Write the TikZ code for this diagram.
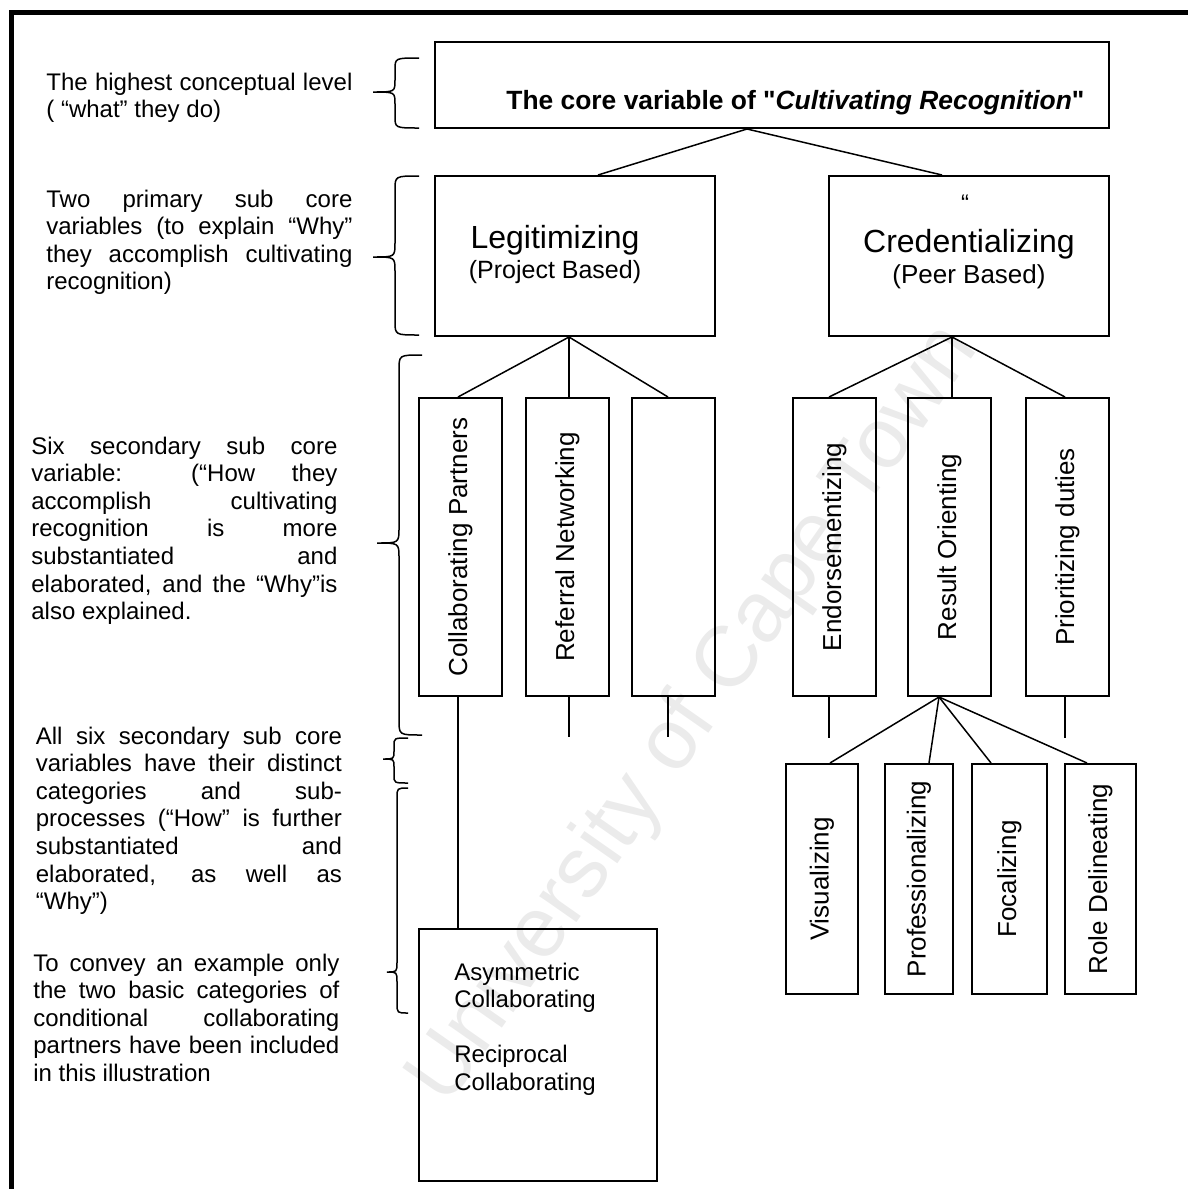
\documentclass[tikz,border=0pt]{standalone}
\usepackage{fontspec}
\setmainfont{Liberation Sans}
\usetikzlibrary{calc}
% one justified line of a side note, stretched to the note width
\newcommand\jl[1]{\makebox[\linewidth][s]{#1}\\}
% curly brace: end x, spine x, tip x, top y, tip y, bottom y, curl
\newcommand\sidebrace[7]{%
  \draw[bracestyle] (#1,#4) .. controls (#2,#4) .. (#2,#4+#7) -- (#2,#5-#7)
    .. controls (#2,#5) .. (#3,#5) .. controls (#2,#5) .. (#2,#5+#7)
    -- (#2,#6-#7) .. controls (#2,#6) .. (#1,#6);}
\begin{document}
\begin{tikzpicture}[x=0.5pt,y=-0.5pt,
  bx/.style 2 args={draw, line width=1pt, inner sep=0pt,
    minimum width=#1*0.5pt, minimum height=#2*0.5pt},
  link/.style={line width=0.75pt},
  bracestyle/.style={line width=0.75pt},
  vlab/.style={rotate=90, inner sep=0pt, font=\fontsize{13}{15}\selectfont},
  para/.style={anchor=base west, inner sep=0pt, font=\fontsize{12}{13.8}\selectfont},
  watermark/.style={rotate=55, inner sep=0pt, text=black!8,
    font=\fontsize{43}{43}\selectfont}]
\useasboundingbox (0,0) rectangle (1188,1189);

% faint diagonal stamp behind everything
\node[watermark] (wm) at (695,715) {University of Cape Town};

% page frame (top and left rules)
\draw[line width=2.5pt] (11,1200) -- (11,12) -- (1200,12);

% boxes
\node[bx={674}{86}] (core) at (772,85) {};
\node[bx={280}{160}] (legit) at (575,256) {};
\node[bx={280}{160}] (cred) at (969,256) {};
\node[bx={83}{298}] (collab) at (460.5,547) {};
\node[bx={83}{298}] (referral) at (567.5,547) {};
\node[bx={83}{298}] (blank) at (673.5,547) {};
\node[bx={83}{298}] (endorse) at (834.5,547) {};
\node[bx={83}{298}] (result) at (949.5,547) {};
\node[bx={83}{298}] (prior) at (1067.5,547) {};
\node[bx={72}{230}] (visual) at (822,879) {};
\node[bx={68}{230}] (profess) at (919,879) {};
\node[bx={75}{230}] (focal) at (1009.5,879) {};
\node[bx={71}{230}] (role) at (1100.5,879) {};
\node[bx={238}{252}] (example) at (538,1055) {};

% box texts
\node[anchor=base west, inner sep=0pt, font=\fontsize{13.2}{15}\bfseries] (coreT) at (506,109)
  {The core variable of \textquotedbl\textit{Cultivating Recognition}\textquotedbl};
\node[anchor=base, inner sep=0pt, font=\fontsize{16}{18}\selectfont] (legitT) at (555,248) {Legitimizing};
\node[anchor=base, inner sep=0pt, font=\fontsize{12.5}{14}\selectfont] (legitS) at (555,278) {(Project Based)};
\node[anchor=base, inner sep=0pt, font=\fontsize{12}{14}\selectfont] (credQ) at (965,211) {“};
\node[anchor=base, inner sep=0pt, font=\fontsize{16}{18}\selectfont] (credT) at (969,252) {Credentializing};
\node[anchor=base, inner sep=0pt, font=\fontsize{13}{15}\selectfont] (credS) at (969,283) {(Peer Based)};

\node[vlab] (collabT) at (collab) {Collaborating Partners};
\node[vlab] (referralT) at (referral) {Referral Networking};
\node[vlab] (endorseT) at (endorse) {Endorsementizing};
\node[vlab] (resultT) at (result) {Result Orienting};
\node[vlab] (priorT) at (prior) {Prioritizing duties};
\node[vlab] (visualT) at (visual) {Visualizing};
\node[vlab] (professT) at (profess) {Professionalizing};
\node[vlab] (focalT) at (focal) {Focalizing};
\node[vlab] (roleT) at (role) {Role Delineating};

\node[para] (exampleT) at (454,980) {\parbox[t]{120pt}{%
  Asymmetric\\Collaborating\\[13.8pt]Reciprocal\\Collaborating}};

% tree connectors
\draw[link] ([xshift=-12.5pt]core.south) -- ([xshift=11.5pt]legit.north);
\draw[link] ([xshift=-12.5pt]core.south) -- ([xshift=-13.5pt]cred.north);
\draw[link] ([xshift=-3pt]legit.south) -- ([xshift=-1.25pt]collab.north);
\draw[link] ([xshift=-3pt]legit.south) -- ([xshift=0.75pt]referral.north);
\draw[link] ([xshift=-3pt]legit.south) -- ([xshift=-2.75pt]blank.north);
\draw[link] ([xshift=-8.5pt]cred.south) -- ([xshift=-2.75pt]endorse.north);
\draw[link] ([xshift=-8.5pt]cred.south) -- ([xshift=1.25pt]result.north);
\draw[link] ([xshift=-8.5pt]cred.south) -- ([xshift=-1.25pt]prior.north);
\draw[link] ([xshift=-5.25pt]result.south) -- ([xshift=4pt]visual.north);
\draw[link] ([xshift=-5.25pt]result.south) -- ([xshift=5pt]profess.north);
\draw[link] ([xshift=-5.25pt]result.south) -- ([xshift=-9.25pt]focal.north);
\draw[link] ([xshift=-5.25pt]result.south) -- ([xshift=-6.75pt]role.north);
\draw[line width=1.3pt] ([xshift=-1.25pt]collab.south) -- ([xshift=-40pt]example.north);

% open stubs below the secondary boxes
\coordinate (referralEnd) at (569,737);
\coordinate (blankEnd) at (668,737);
\coordinate (endorseEnd) at (829,738);
\coordinate (priorEnd) at (1065,738);
\draw[link] ([xshift=0.75pt]referral.south) -- (referralEnd);
\draw[link] ([xshift=-2.75pt]blank.south) -- (blankEnd);
\draw[link] ([xshift=-2.75pt]endorse.south) -- (endorseEnd);
\draw[link] ([xshift=-1.25pt]prior.south) -- (priorEnd);

% side notes
\node[para] (note1) at (46,90) {\parbox[t]{153pt}{%
  \jl{The highest conceptual level}( “what” they do)}};
\node[para] (note2) at (46,207) {\parbox[t]{153pt}{%
  \jl{Two primary sub core}\jl{variables (to explain “Why”}%
  \jl{they accomplish cultivating}recognition)}};
\node[para] (note3) at (31,454) {\parbox[t]{153pt}{%
  \jl{Six secondary sub core}\jl{variable: (“How they}\jl{accomplish cultivating}%
  \jl{recognition is more}\jl{substantiated and}\jl{elaborated, and the “Why”is}%
  also explained.}};
\node[para] (note4) at (35.5,744) {\parbox[t]{153pt}{%
  \jl{All six secondary sub core}\jl{variables have their distinct}%
  \jl{categories and sub-}\jl{processes (“How” is further}\jl{substantiated and}%
  \jl{elaborated, as well as}“Why”)}};
\node[para] (note5) at (33,971) {\parbox[t]{153pt}{%
  \jl{To convey an example only}\jl{the two basic categories of}%
  \jl{conditional collaborating}\jl{partners have been included}%
  in this illustration}};

% braces next to the notes
\sidebrace{419}{395}{373}{58}{92}{128}{12}
\sidebrace{419}{395}{373}{176}{257}{335}{14}
\sidebrace{422}{399}{377}{355}{543}{735}{15}
\sidebrace{408}{394}{383}{738}{759}{783}{8}
\sidebrace{408}{397}{387}{788}{972}{1013}{10}
\end{tikzpicture}
\end{document}
